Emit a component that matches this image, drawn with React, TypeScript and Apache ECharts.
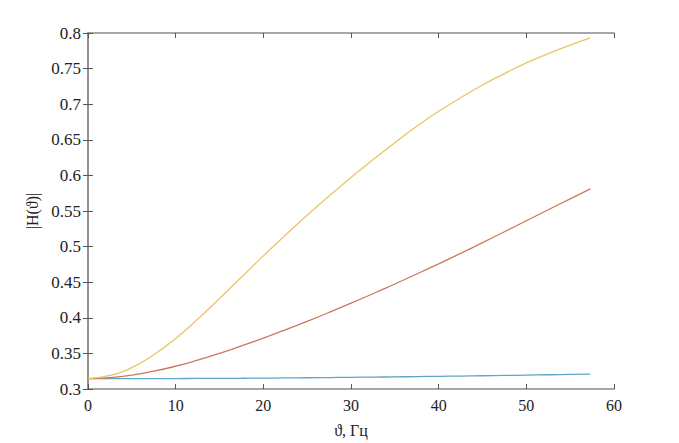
import React, { useEffect, useRef } from "react";
import * as echarts from "echarts";

const freq = [0, 2.5, 5, 7.5, 10, 12.5, 15, 17.5, 20, 22.5, 25, 27.5, 30, 32.5, 35, 37.5, 40, 42.5, 45, 47.5, 50, 52.5, 55, 57.3];
const seriesBlue = [0.3145, 0.3145, 0.3146, 0.3146, 0.3147, 0.3148, 0.3150, 0.3151, 0.3153, 0.3155, 0.3158, 0.3161, 0.3164, 0.3167, 0.3170, 0.3174, 0.3178, 0.3182, 0.3186, 0.3190, 0.3195, 0.3200, 0.3205, 0.3210];
const seriesRed = [0.3145, 0.316, 0.3195, 0.325, 0.332, 0.3405, 0.350, 0.3605, 0.3715, 0.383, 0.395, 0.4075, 0.4205, 0.4338, 0.4475, 0.4615, 0.4758, 0.4905, 0.5055, 0.5208, 0.5363, 0.5518, 0.5671, 0.5811];
const seriesYellow = [0.3145, 0.319, 0.330, 0.348, 0.371, 0.398, 0.427, 0.457, 0.487, 0.516, 0.544, 0.571, 0.597, 0.622, 0.646, 0.669, 0.690, 0.709, 0.727, 0.743, 0.758, 0.771, 0.783, 0.793];
const yTicks = ["0.3", "0.35", "0.4", "0.45", "0.5", "0.55", "0.6", "0.65", "0.7", "0.75", "0.8"];
const xName = "ϑ, Гц";
const yName = "|H(ϑ)|";

const toPairs = (ys: number[]) => freq.map((x, i) => [x, ys[i]]);

export default function App() {
  const ref = useRef<HTMLDivElement>(null);
  useEffect(() => {
    document.body.style.margin = "0";
    const chart = echarts.init(ref.current!, null, { renderer: "svg" });
    const font = "'Liberation Serif', 'Times New Roman', serif";
    const axisColor = "#8a8a8a";
    const textColor = "#222";
    const tickStyle = { inside: true, length: 5, lineStyle: { color: "#555", width: 1 } };
    chart.setOption({
      animation: false,
      backgroundColor: "#ffffff",
      grid: { left: 88, right: 65, top: 33, bottom: 50 },
      xAxis: [
        {
          type: "value",
          min: 0,
          max: 60,
          interval: 10,
          position: "bottom",
          name: xName,
          nameLocation: "middle",
          nameGap: 33,
          nameTextStyle: { fontFamily: font, fontSize: 16, color: textColor },
          axisLine: { lineStyle: { color: axisColor, width: 1.5 } },
          axisTick: tickStyle,
          axisLabel: { fontFamily: font, fontSize: 16, color: textColor, margin: 8 },
          splitLine: { show: false },
        },
        {
          type: "value",
          min: 0,
          max: 60,
          interval: 10,
          position: "top",
          axisLine: { lineStyle: { color: axisColor, width: 1.5 } },
          axisTick: tickStyle,
          axisLabel: { show: false },
          splitLine: { show: false },
        },
      ],
      yAxis: [
        {
          type: "value",
          min: 0.3,
          max: 0.8,
          interval: 0.05,
          position: "left",
          name: yName,
          nameLocation: "middle",
          nameGap: 48,
          nameRotate: 90,
          nameTextStyle: { fontFamily: font, fontSize: 16, color: textColor },
          axisLine: { show: true, lineStyle: { color: axisColor, width: 1.5 } },
          axisTick: { show: true, ...tickStyle },
          axisLabel: {
            fontFamily: font,
            fontSize: 17,
            color: textColor,
            margin: 7,
            formatter: (v: number) => {
              const idx = Math.round((v - 0.3) / 0.05);
              return yTicks[idx] ?? "";
            },
          },
          splitLine: { show: false },
        },
        {
          type: "value",
          min: 0.3,
          max: 0.8,
          interval: 0.05,
          position: "right",
          axisLine: { show: true, lineStyle: { color: axisColor, width: 1.5 } },
          axisTick: { show: true, ...tickStyle },
          axisLabel: { show: false },
          splitLine: { show: false },
        },
      ],
      series: [
        {
          type: "line",
          data: toPairs(seriesBlue),
          smooth: 0.5,
          showSymbol: false,
          lineStyle: { color: "#5fa5cb", width: 1.3 },
        },
        {
          type: "line",
          data: toPairs(seriesRed),
          smooth: 0.5,
          showSymbol: false,
          lineStyle: { color: "#c97a5c", width: 1.3 },
        },
        {
          type: "line",
          data: toPairs(seriesYellow),
          smooth: 0.5,
          showSymbol: false,
          lineStyle: { color: "#e8c663", width: 1.3 },
        },
      ],
    });
    return () => chart.dispose();
  }, []);
  return <div ref={ref} style={{ width: 679, height: 443 }} />;
}
